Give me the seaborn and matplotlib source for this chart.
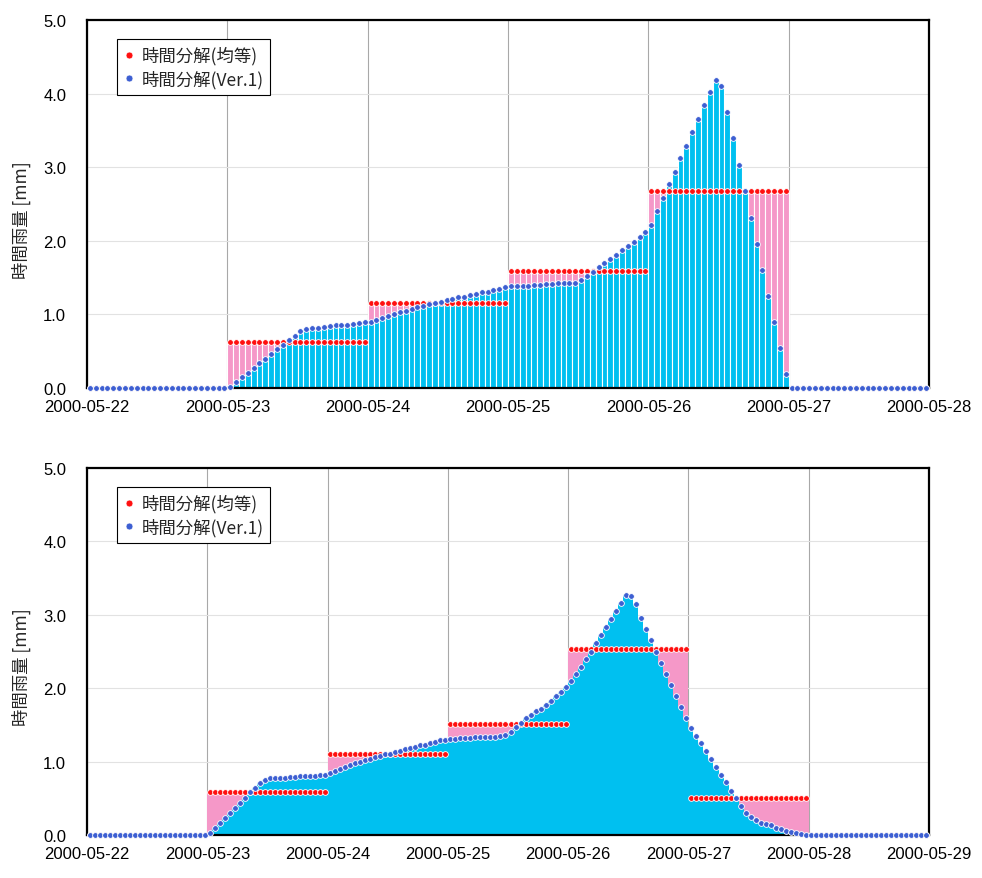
import numpy as np
import matplotlib
matplotlib.use("Agg")
import matplotlib.pyplot as plt
from matplotlib.lines import Line2D
import seaborn as sns

# ---------------------------------------------------------------------------
# Hourly rainfall [mm/h]; each list holds the 24 hourly values of one day.
# ---------------------------------------------------------------------------
top_dates = ["2000-05-22", "2000-05-23", "2000-05-24", "2000-05-25",
             "2000-05-26", "2000-05-27", "2000-05-28"]
bottom_dates = ["2000-05-22", "2000-05-23", "2000-05-24", "2000-05-25",
                "2000-05-26", "2000-05-27", "2000-05-28", "2000-05-29"]

# 時間分解(均等): daily total spread evenly over the day (hourly amount per day)
top_even_by_day = [0.00, 0.63, 1.16, 1.59, 2.67, 0.00]
bottom_even_by_day = [0.00, 0.59, 1.10, 1.51, 2.54, 0.50, 0.00]

# 時間分解(Ver.1): hourly values, upper event
top_ver1_0522 = [0.00, 0.00, 0.00, 0.00, 0.00, 0.00, 0.00, 0.00, 0.00, 0.00, 0.00, 0.00,
                 0.00, 0.00, 0.00, 0.00, 0.00, 0.00, 0.00, 0.00, 0.00, 0.00, 0.00, 0.00]
top_ver1_0523 = [0.02, 0.08, 0.15, 0.21, 0.27, 0.34, 0.40, 0.46, 0.53, 0.59, 0.65, 0.71,
                 0.77, 0.80, 0.81, 0.82, 0.83, 0.84, 0.85, 0.85, 0.86, 0.87, 0.88, 0.89]
top_ver1_0524 = [0.90, 0.93, 0.95, 0.98, 1.00, 1.03, 1.05, 1.08, 1.10, 1.12, 1.14, 1.16,
                 1.17, 1.19, 1.21, 1.23, 1.24, 1.26, 1.28, 1.30, 1.31, 1.33, 1.35, 1.37]
top_ver1_0525 = [1.38, 1.38, 1.39, 1.39, 1.40, 1.40, 1.41, 1.41, 1.42, 1.42, 1.43, 1.43,
                 1.47, 1.52, 1.58, 1.64, 1.70, 1.75, 1.81, 1.87, 1.93, 1.99, 2.05, 2.12]
top_ver1_0526 = [2.22, 2.40, 2.58, 2.77, 2.94, 3.13, 3.29, 3.48, 3.66, 3.84, 4.02, 4.19,
                 4.11, 3.75, 3.39, 3.03, 2.67, 2.31, 1.96, 1.61, 1.25, 0.89, 0.54, 0.19]
top_ver1_0527 = [0.00, 0.00, 0.00, 0.00, 0.00, 0.00, 0.00, 0.00, 0.00, 0.00, 0.00, 0.00,
                 0.00, 0.00, 0.00, 0.00, 0.00, 0.00, 0.00, 0.00, 0.00, 0.00, 0.00, 0.00]

# 時間分解(Ver.1): hourly values, lower event
bottom_ver1_0522 = [0.00, 0.00, 0.00, 0.00, 0.00, 0.00, 0.00, 0.00, 0.00, 0.00, 0.00, 0.00,
                    0.00, 0.00, 0.00, 0.00, 0.00, 0.00, 0.00, 0.00, 0.00, 0.00, 0.00, 0.00]
bottom_ver1_0523 = [0.03, 0.10, 0.16, 0.23, 0.30, 0.37, 0.44, 0.51, 0.58, 0.64, 0.71, 0.75,
                    0.77, 0.77, 0.78, 0.78, 0.79, 0.79, 0.80, 0.80, 0.81, 0.81, 0.82, 0.82]
bottom_ver1_0524 = [0.85, 0.87, 0.90, 0.93, 0.96, 0.98, 1.00, 1.02, 1.04, 1.06, 1.08, 1.10,
                    1.11, 1.13, 1.15, 1.17, 1.18, 1.20, 1.22, 1.23, 1.25, 1.27, 1.29, 1.30]
bottom_ver1_0525 = [1.31, 1.31, 1.32, 1.32, 1.32, 1.33, 1.33, 1.33, 1.34, 1.34, 1.35, 1.36,
                    1.41, 1.47, 1.53, 1.59, 1.64, 1.69, 1.72, 1.77, 1.83, 1.89, 1.95, 2.01]
bottom_ver1_0526 = [2.10, 2.20, 2.29, 2.40, 2.50, 2.62, 2.73, 2.83, 2.94, 3.05, 3.16, 3.27,
                    3.25, 3.15, 2.96, 2.80, 2.65, 2.49, 2.35, 2.20, 2.05, 1.89, 1.74, 1.60]
bottom_ver1_0527 = [1.46, 1.35, 1.25, 1.15, 1.04, 0.93, 0.82, 0.72, 0.60, 0.50, 0.40, 0.30,
                    0.24, 0.20, 0.17, 0.15, 0.13, 0.10, 0.08, 0.06, 0.04, 0.03, 0.01, 0.00]
bottom_ver1_0528 = [0.00, 0.00, 0.00, 0.00, 0.00, 0.00, 0.00, 0.00, 0.00, 0.00, 0.00, 0.00,
                    0.00, 0.00, 0.00, 0.00, 0.00, 0.00, 0.00, 0.00, 0.00, 0.00, 0.00, 0.00]

legend_labels = ["時間分解(均等)", "時間分解(Ver.1)"]
y_label = "時間雨量 [mm]"

# ---------------------------------------------------------------------------
PINK = "#F598C8"
CYAN = "#00C0F0"
RED = "#FF1010"
BLUE = "#3D5FD2"

sns.set_theme(style="white")
plt.rcParams["font.family"] = ["Liberation Sans", "Noto Sans CJK JP", "DejaVu Sans"]
CJK = ["Noto Sans CJK JP", "Liberation Sans", "DejaVu Sans"]

top_ver1 = np.concatenate([top_ver1_0522, top_ver1_0523, top_ver1_0524,
                           top_ver1_0525, top_ver1_0526, top_ver1_0527])
top_even = np.repeat(top_even_by_day, 24)
bottom_ver1 = np.concatenate([bottom_ver1_0522, bottom_ver1_0523, bottom_ver1_0524,
                              bottom_ver1_0525, bottom_ver1_0526, bottom_ver1_0527,
                              bottom_ver1_0528])
bottom_even = np.repeat(bottom_even_by_day, 24)


def draw_panel(ax, even, ver1, dates, bar_lw):
    n = len(ver1)
    pos = np.arange(n) + 0.5
    # equal split behind, Ver.1 in front: pink shows where the even split is larger
    sns.barplot(x=pos, y=even, native_scale=True, width=1.0, color=PINK, saturation=1,
                edgecolor="white", linewidth=bar_lw, errorbar=None, ax=ax, zorder=1)
    sns.barplot(x=pos, y=ver1, native_scale=True, width=1.0, color=CYAN, saturation=1,
                edgecolor="white", linewidth=bar_lw, errorbar=None, ax=ax, zorder=1.2)
    sns.scatterplot(x=pos, y=even, color=RED, s=17, edgecolor="white", linewidth=0.6,
                    ax=ax, zorder=4, clip_on=False, legend=False)
    sns.scatterplot(x=pos, y=ver1, color=BLUE, s=17, edgecolor="white", linewidth=0.6,
                    ax=ax, zorder=5, clip_on=False, legend=False)

    ax.set_xlim(0, n)
    ax.set_ylim(0, 5)
    ax.set_xticks(np.arange(0, n + 1, 24))
    ax.set_xticklabels(dates)
    ax.set_yticks(np.arange(0, 6))
    ax.set_yticklabels([f"{v:.1f}" for v in range(6)])
    ax.set_xlabel("")
    ax.set_ylabel(y_label, fontsize=12.5, family=CJK)
    ax.yaxis.set_label_coords(-0.067, 0.46)

    ax.set_axisbelow(True)
    ax.grid(False)
    ax.xaxis.grid(True, color="#A8A8A8", linewidth=0.8)
    ax.yaxis.grid(True, color="#E2E2E2", linewidth=0.8)
    for s in ax.spines.values():
        s.set_visible(True)
        s.set_color("black")
        s.set_linewidth(1.6)
    ax.tick_params(axis="both", direction="in", length=4, width=1, color="black",
                   labelsize=12, labelcolor="black")
    ax.tick_params(axis="y", pad=15)
    ax.tick_params(axis="x", pad=8)

    handles = [
        Line2D([0], [0], marker="o", linestyle="", markerfacecolor=RED,
               markeredgecolor="white", markeredgewidth=0.5, markersize=5),
        Line2D([0], [0], marker="o", linestyle="", markerfacecolor=BLUE,
               markeredgecolor="white", markeredgewidth=0.5, markersize=5),
    ]
    leg = ax.legend(handles, legend_labels, loc="upper left",
                    bbox_to_anchor=(0.0356, 0.948), borderaxespad=0,
                    prop={"family": CJK, "size": 12.5}, frameon=True, fancybox=False,
                    framealpha=1, edgecolor="black", handlelength=0.6,
                    handletextpad=0.4, borderpad=0.4, labelspacing=0.3)
    leg.get_frame().set_linewidth(0.8)


fig = plt.figure(figsize=(9.82, 8.79), dpi=100)
fig.patch.set_facecolor("white")
ax_top = fig.add_axes([87 / 982, 1 - 389 / 879, 842 / 982, 368 / 879])
ax_bot = fig.add_axes([87 / 982, 1 - 836 / 879, 842 / 982, 367 / 879])

draw_panel(ax_top, top_even, top_ver1, top_dates, bar_lw=0.8)
draw_panel(ax_bot, bottom_even, bottom_ver1, bottom_dates, bar_lw=0.0)

fig.savefig("out.png", dpi=100)
